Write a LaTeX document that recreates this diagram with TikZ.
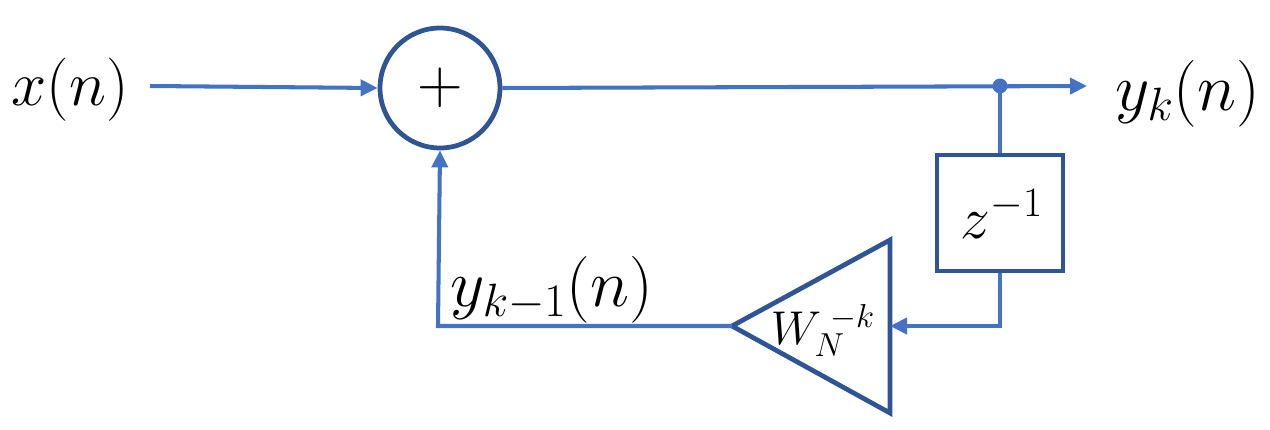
\RequirePackage{fix-cm}
\documentclass[tikz,border=0pt]{standalone}
\usetikzlibrary{arrows.meta}
\definecolor{wire}{HTML}{4472C4}
\definecolor{shapeblue}{HTML}{2F5597}
\begin{document}
\begin{tikzpicture}[x=0.02cm,y=-0.02cm,
  wirestyle/.style={draw=wire,line width=2.3pt},
  arr/.style={wirestyle,-{Triangle[length=0.34cm,width=0.32cm]}},
  shapestyle/.style={draw=shapeblue,line width=2.7pt,fill=white},
  lbl/.style={font=\fontsize{38}{46}\selectfont,inner sep=0pt}]
\useasboundingbox (0,0) rectangle (1270,429);
% nodes
\node[font=\fontsize{36}{44}\selectfont,inner sep=0pt] (xin) at (70,90) {$x(n)$};
\node[lbl] (yout) at (1188,94) {$y_k(n)$};
\node[shapestyle,circle,minimum size=2.4cm,inner sep=0pt] (sum) at (440,88) {\fontsize{36}{44}\selectfont$+$};
\node[shapestyle,rectangle,minimum width=2.52cm,minimum height=2.32cm,inner sep=0pt] (delay) at (1000,213) {};
\node[font=\fontsize{34}{40}\selectfont,inner sep=0pt] (dlbl) at (1002,214) {$z^{-1}$};
\coordinate (inS) at (150,86);
\coordinate (outE) at (1087,86);
\coordinate (tap) at (1000,86);
\coordinate (triL) at (732,326);
\coordinate (triT) at (890,240);
\coordinate (triB) at (890,413);
\coordinate (triR) at (890,326);
\coordinate (corner) at (1000,326);
\coordinate (fbcorner) at (438,326);
\draw[shapestyle,line join=miter] (triL) -- (triT) -- (triB) -- cycle;
\node[font=\fontsize{27}{32}\selectfont,inner sep=0pt] (gain) at (823,330) {$W_N^{\;-k}$};
\node[lbl] (fblbl) at (552,290) {$y_{k-1}(n)$};
% connectors
\draw[arr] (inS) -- (sum.west);
\draw[arr] (sum.east) -- (outE);
\draw[wirestyle] (tap) -- (delay.north);
\draw[arr] (delay.south) -- (corner) -- (triR);
\draw[arr] (triL) -- (fbcorner) -- (sum.south);
\node[circle,fill=wire,minimum size=0.3cm,inner sep=0pt] (dot) at (tap) {};
\end{tikzpicture}
\end{document}
